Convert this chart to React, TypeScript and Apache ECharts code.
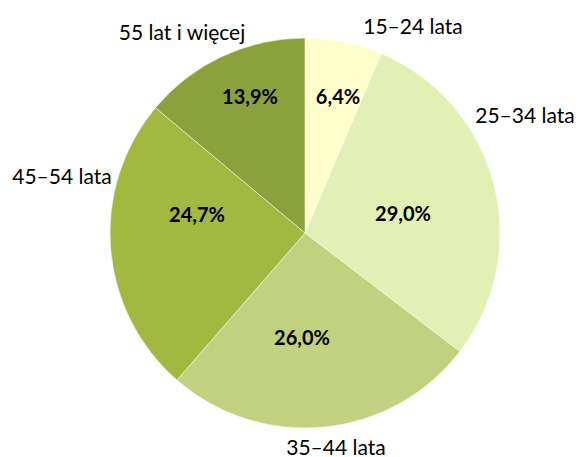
import React, { useEffect, useRef } from "react";
import * as echarts from "echarts";

const categories = ["15–24 lata", "25–34 lata", "35–44 lata", "45–54 lata", "55 lat i więcej"];
const shares = [6.4, 29.0, 26.0, 24.7, 13.9];
const colors = ["#FFFFCC", "#E2EFB5", "#C2D17E", "#A2B840", "#8BA13B"];

// label anchor positions (layout only)
const pctPos: [number, number][] = [
  [338, 96],
  [403, 213],
  [302, 337],
  [197, 214],
  [250, 96],
];
const namePos: [number, number][] = [
  [413, 25],
  [525, 114],
  [336, 446],
  [62, 175],
  [182, 31],
];

const FONT = "Lato, 'Open Sans', sans-serif";

export default function App() {
  const ref = useRef<HTMLDivElement>(null);
  useEffect(() => {
    document.body.style.margin = "0";
    const chart = echarts.init(ref.current!, null, { renderer: "svg" });
    const data = categories.map((c, i) => ({
      name: c,
      value: shares[i],
      itemStyle: { color: colors[i] },
    }));
    chart.setOption({
      animation: false,
      backgroundColor: "#ffffff",
      series: [
        {
          type: "pie",
          center: [305, 233],
          radius: [0, 195],
          startAngle: 90,
          clockwise: true,
          data,
          itemStyle: { borderColor: "rgba(255,255,255,0.5)", borderWidth: 1 },
          label: {
            show: true,
            position: "inside",
            formatter: (p: any) => p.value.toFixed(1).replace(".", ",") + "%",
            fontFamily: FONT,
            fontWeight: "bold",
            fontSize: 20,
            color: "#000",
            overflow: "none",
          },
          labelLine: { show: false },
          labelLayout: (p: any) => ({
            x: pctPos[p.dataIndex][0],
            y: pctPos[p.dataIndex][1],
            align: "center",
            verticalAlign: "middle",
          }),
          silent: true,
        },
        {
          type: "pie",
          center: [305, 233],
          radius: [0, 195],
          startAngle: 90,
          clockwise: true,
          data: categories.map((c, i) => ({ name: c, value: shares[i] })),
          itemStyle: { color: "rgba(0,0,0,0)", borderWidth: 0 },
          label: {
            show: true,
            position: "outside",
            formatter: "{b}",
            fontFamily: FONT,
            fontSize: 21,
            color: "#000",
            overflow: "none",
            width: 200,
          },
          labelLine: { show: false },
          labelLayout: (p: any) => ({
            x: namePos[p.dataIndex][0],
            y: namePos[p.dataIndex][1],
            align: "center",
            verticalAlign: "middle",
          }),
          silent: true,
        },
      ],
    });
    return () => chart.dispose();
  }, []);
  return <div ref={ref} style={{ width: 578, height: 457 }} />;
}
